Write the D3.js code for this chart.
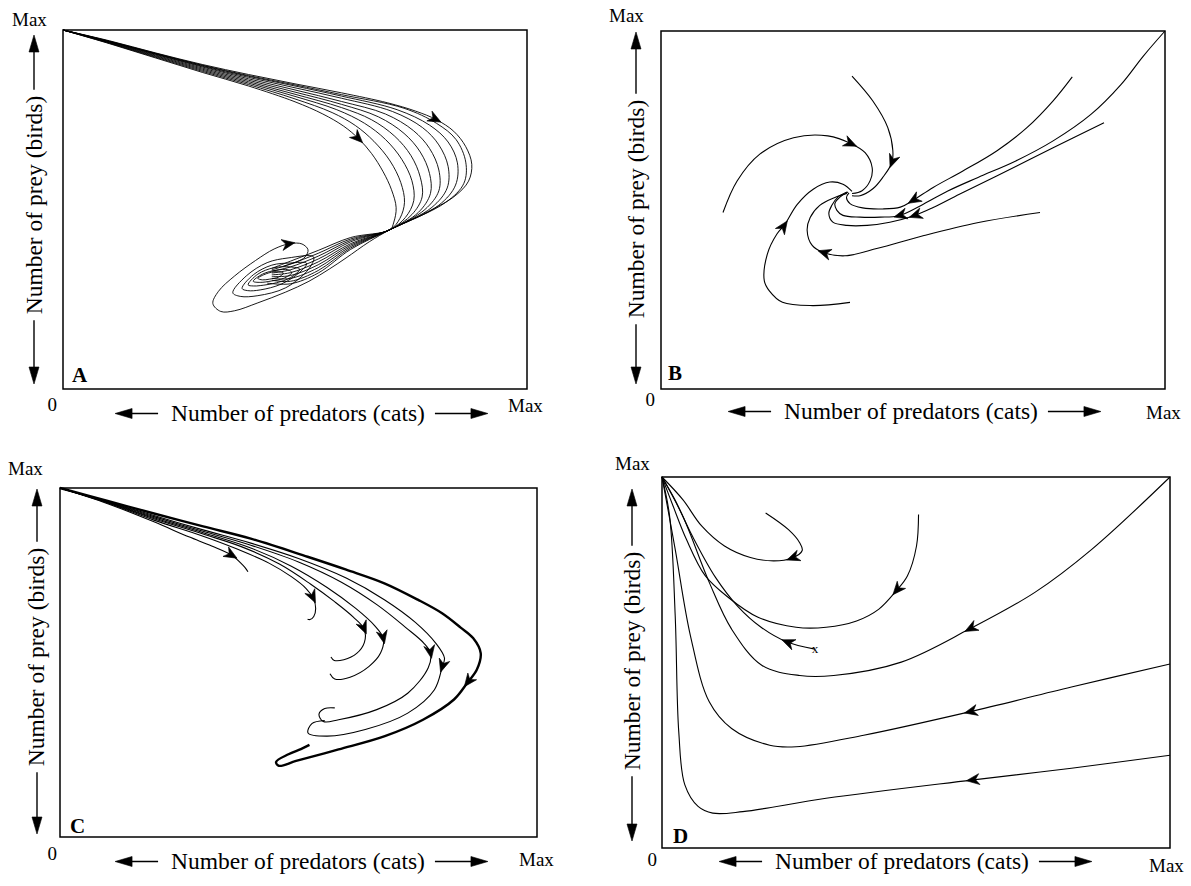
<!DOCTYPE html>
<html><head><meta charset="utf-8">
<script src="https://cdn.jsdelivr.net/npm/d3@7"></script>
<style>
body{margin:0;background:#fff}
svg{display:block}
text{font-family:"Liberation Serif","Times New Roman",serif;fill:#000}
</style>
</head><body>
<svg id="chart" width="1191" height="886"></svg>
<script>
// ---------------- DATA (x = predators %, y = prey %) ----------------
const panelLetters = ["A", "B", "C", "D"];
const maxLabel = "Max";
const zeroLabel = "0";
const xTitle = "Number of predators (cats)";
const yTitle = "Number of prey (birds)";

// Panel A: trajectories from the prey-max corner, turning, pinching, spiralling in
const trajA = [
  [[0,100],[10,96.2],[20,92.2],[30,88.2],[40,84.4],[50,80],[56,76.6],[60.5,73.2],[63.8,69.6],[66.5,65.6],[69,60.5],[70.8,55.5],[71.8,50.5],[71.3,46.5],[70.5,44.4],[62,42.2],[55,38.6],[49,35.6],[45,33.6]],
  [[0,100],[10,96.3],[20,92.4],[30,88.5],[40,84.8],[50,80.8],[58,77],[63,73.4],[67,69],[70.5,63.5],[72.8,57.5],[73.6,52],[72.6,47.5],[70.5,44.4],[62,41.8],[55,37.8],[49,34.8],[45,33.2]],
  [[0,100],[10,96.4],[20,92.6],[30,88.8],[40,85.2],[50,81.5],[59,77.8],[65,74],[69.5,69.5],[73,64],[75.2,58],[75.6,52.5],[73.8,47.8],[70.5,44.4],[62,41.4],[55,37],[49,34],[45,32.8]],
  [[0,100],[10,96.5],[20,92.8],[30,89.1],[40,85.6],[50,82.1],[60,78.4],[66.5,75],[71.5,70.4],[75,65],[77,59],[77.4,53.5],[75.2,48.6],[70.5,44.4],[62,41],[55,36.2],[49,33.2],[45,32.3]],
  [[0,100],[10,96.6],[20,93],[30,89.4],[40,86],[50,82.7],[60,79.3],[68,75.8],[73.5,71.2],[77,66],[79,60],[79.2,54.5],[76.6,49.2],[70.5,44.4],[62,40.5],[55,35.4],[49,32.4],[45,31.8]],
  [[0,100],[10,96.7],[20,93.2],[30,89.7],[40,86.4],[50,83.3],[60,80.1],[69.5,76.6],[75.5,72],[79,67],[81,61],[81,55.2],[78,50],[70.5,44.4],[62,40.1],[55,34.6],[49,31.6],[45,31.3]],
  [[0,100],[10,96.8],[20,93.3],[30,89.9],[40,86.8],[50,83.9],[60,81],[71,77.3],[77.5,72.8],[81,68],[83,62],[82.8,56],[79.5,50.6],[70.5,44.4],[62,39.7],[55,33.8],[49,30.8],[45,30.8]],
  [[0,100],[10,96.8],[20,93.4],[30,90.1],[40,87.1],[50,84.4],[60,81.6],[72,77.8],[79,73.5],[83,68.8],[85,63],[84.6,56.8],[81,51.2],[70.5,44.4],[62,39.3],[55,33],[49,30],[45,30.3]],
  [[0,100],[10,96.9],[20,93.5],[30,90.2],[40,87.3],[50,84.7],[60,82],[73.5,78.2],[80.5,74],[84.7,69.5],[86.8,63.2],[86.4,57.3],[82.5,52],[70.5,44.4],[62,38.9],[55,32.3],[49,29.3],[44,29.5]],
  [[0,100],[10,97],[20,93.6],[30,90.4],[40,87.6],[50,85],[60,82.5],[70,79.7],[76,77.4],[80.5,75],[84.2,71.8],[86.8,67.5],[88.1,62.6],[87.4,57.9],[84.5,53.8],[78.5,49.3],[70.5,44.4],[66,41],[61,36.5],[57.5,33.5],[53,30],[48,27],[42,24],[37,21.8],[34,21.6],[32.3,23.8],[33.5,27.2],[37,31.5],[41.5,35.8],[45.5,39],[48.9,40.5],[51.5,40.4],[52.8,38.8],[52.2,36.8],[50.5,35.5],[47.5,34.2]]
];
const loopsA = [
  [[36.6,26.8],[39.5,31.5],[44,35.2],[48.5,36.5],[54,36.8],[53,33.5],[48,28.2],[42,26],[38.2,25.8]],
  [[38.6,28],[41,31.8],[45,34.5],[49,35.1],[52.5,35],[51,32.5],[47,29.2],[42.5,27.6],[39.8,27.4]],
  [[39.9,29],[42,32],[45.5,33.8],[49,34],[51,33.4],[49,31],[46,29.6],[42.5,28.8],[41,28.7]],
  [[41,30],[43,32],[46,33.1],[48.5,33.2],[49.3,32.4],[47.5,30.8],[45,30.1],[42.5,29.7]],
  [[42,30.8],[43.8,32.1],[46,32.7],[47.5,32.3],[46.5,31.2],[44.5,30.6],[43,30.4]]
];
const arrowsA = [[9,9],[0,8],[9,30]];   // [trajectory, point index]

// Panel B: spiral sink
const trajB = [
  [[37.9,87.4],[42,80.5],[45,73],[46,66.6],[45.8,63.2],[44,59.1],[42.1,56],[39.5,54],[37.9,54]],
  [[12.3,49.3],[15.1,58.1],[19.6,65.6],[26.3,70.2],[33.1,70.7],[37.9,68.4],[40.5,66],[41.9,61.8],[41.5,58.2],[39.9,55.4],[37.9,54.6]],
  [[37.5,24.2],[30.1,23.3],[24.1,24.2],[21.5,27.4],[20.5,30.2],[21.1,37.7],[23,43.3],[24.5,45.8],[27,51.5],[30.2,55.8],[33.5,57.8],[36.1,57.2],[37.9,55.2]],
  [[75.2,49.3],[63,46.5],[52,42.8],[43,39.3],[36.5,37.2],[32.1,38.2],[30,40.1],[29,44.3],[29.6,47.9],[31.5,51.3],[34.5,53.5],[36.9,54.6]],
  [[81.6,87.2],[77.8,80.5],[72.6,73],[66.6,66.5],[59.9,60.9],[54,56.3],[49.9,52.6],[47.5,50.8],[44,50.3],[40,50.6],[37.5,51.8],[36.8,53.5],[37.3,54.8]],
  [[100,100],[95.7,93],[91.3,85.1],[85.3,76.7],[77.8,69.3],[70.4,63.7],[62.9,59.1],[56.9,55.3],[51.5,51.2],[47.2,48.4],[43.5,48],[39.5,48],[36.1,48.5],[34.9,49.9],[34.5,51.8],[35.5,53.6],[37.1,55]],
  [[87.9,74.4],[77.8,67.4],[66.6,59.5],[59.2,54.4],[54,50.7],[50.2,48.4],[45.4,46.6],[40.9,45.7],[36.9,45.7],[34.1,46.6],[33.3,49],[33.9,51.3],[35.1,53.6],[36.9,55]]
];
const arrowsB = [[0,4],[1,5],[2,7],[3,5],[4,6],[5,9],[6,5]];

// Panel C: trajectories peeling off a common path
const trajC = [
  [[0,100],[10,95.5],[19.7,90.3],[27,86],[31.8,83.4],[36.2,80.6],[37.8,78.6],[38.8,77.2],[39.4,76]],
  [[0,100],[10,95.7],[19.7,90.8],[30,86.2],[37,82.6],[43.9,78.4],[48.5,74.6],[51.6,71.2],[53.1,68.4],[53.6,65.5],[53.2,63.2],[52.4,62.3],[51.9,62.4]],
  [[0,100],[10,95.8],[19.7,91.2],[30,86.8],[38,83.2],[46,78.2],[52.5,72.5],[57.5,67.5],[61.5,63],[63.8,59.5],[63.8,55.7],[62.2,52.6],[59.5,50.8],[57.5,50.6],[56.8,51.6]],
  [[0,100],[10,95.9],[19.7,91.5],[30,87.2],[40,82.8],[48.5,77.6],[56,71.5],[62,65.5],[66,60.5],[67.8,56.8],[67.2,52.7],[64.8,48.9],[60.8,45.8],[57.6,45.3],[56.6,46.8]],
  [[0,100],[10,96],[19.7,91.8],[30,87.6],[40,83.6],[50,78.8],[59,73],[66.5,66.5],[72.5,60],[76.3,55.5],[77.7,52.6],[77.2,48.5],[72.9,41.2],[66.4,36.5],[58.4,33.6],[55.2,33.1],[54.3,35.2],[55.5,36.8],[57.6,37]],
  [[0,100],[10,96.1],[19.7,92.1],[30,88],[40,84.2],[50,79.8],[60,74.2],[68,68],[74.5,61.5],[78.8,55.5],[80.6,51.3],[80.1,48.6],[78.5,42.2],[72.9,35.5],[64,30.8],[56,28.9],[52,29.8],[52.8,32.5],[55.5,33.4]],
  [[0,100],[10,96.3],[19.7,92.7],[30,89],[40,85.5],[51.9,80.3],[60,76.6],[68,72.7],[75,68],[80.1,64.1],[84,60],[86.6,57],[88.2,52.7],[87.4,48],[85.4,44.2],[82.6,39.4],[76.1,33.6],[68.1,28.9],[58.4,25.1],[49.5,21.8],[45.9,20.4],[45.3,21.5],[47.9,23.7],[50.5,25.2],[52.3,26.4]]
];
const heavyC = [6];
const arrowsC = [[0,5],[1,8],[2,9],[3,9],[4,10],[5,11],[6,14]];

// Panel D: trajectories running to the prey-max corner
const trajD = [
  [[100,25],[80.6,21.5],[60.9,18.3],[32.3,13.4],[15.9,9.8],[10,9.4],[7.1,11.2],[4.5,17],[3.3,31.3],[2.6,62.6],[1.5,89.4],[0,100]],
  [[100,49.6],[80.6,43.4],[60.5,36.7],[39.7,30.4],[26.4,27.3],[21.2,27.7],[13.7,32.2],[9.3,39.4],[5.6,57.2],[2.6,80.5],[0,100]],
  [[100,100],[84.6,80.5],[73.4,68.9],[60.5,59],[47.1,50.1],[33.8,46.5],[27.1,46.5],[19.7,49.2],[13.7,59],[9.3,71.6],[4.1,89.4],[0,100]],
  [[30.1,53.6],[24.5,55.6],[19.5,59.5],[15,65],[10.5,73],[6,84],[2.5,94],[0,100]],
  [[50.5,89.9],[50.1,81.4],[48.3,73.3],[46.1,69.3],[42.7,64.4],[38.3,61.2],[32.3,59.5],[26.4,59.5],[18.9,62.2],[13,67.6],[8.5,73.4],[4.8,83.2],[2.2,92.1],[0,100]],
  [[20.4,90.3],[24.9,85.8],[27.1,82.3],[27.6,80.2],[25.5,78.1],[22,77.4],[17.4,78.3],[12.3,81.4],[7.8,86.8],[4.1,93.9],[0,100]]
];
const arrowsD = [[0,2],[1,2],[2,3],[3,1],[4,3],[5,4]];
const startMarkD = [[30.1,53.6]];

// ---------------- LAYOUT ----------------
const layout = {
  A: {box:{l:63,t:30,r:527,b:389}, maxTop:[12,26], zero:[57,411], maxRight:[508,412], xlab:{cx:298,by:421}, ylab:{bx:42,cy:205,ax:34}, yArrow:[35,384], letter:[72,382]},
  B: {box:{l:661,t:31,r:1165,b:389}, maxTop:[609,22], zero:[655,406], maxRight:[1146,419], xlab:{cx:911,by:419}, ylab:{bx:644,cy:209,ax:636}, yArrow:[32,384], letter:[668,380]},
  C: {box:{l:60,t:488,r:537,b:837}, maxTop:[8,475], zero:[57,860], maxRight:[519,866], xlab:{cx:298,by:869}, ylab:{bx:44,cy:657,ax:37}, yArrow:[489,834], letter:[70,833]},
  D: {box:{l:662,t:477,r:1170,b:848}, maxTop:[615,470], zero:[657,866], maxRight:[1149,872], xlab:{cx:902,by:869}, ylab:{bx:640,cy:661,ax:632}, yArrow:[489,841], letter:[673,843]}
};

const svg = d3.select("#chart");
svg.append("rect").attr("width",1191).attr("height",886).attr("fill","#fff");

const panelData = {
  A:{traj:trajA, loops:loopsA, arrows:arrowsA, heavy:[], marks:[]},
  B:{traj:trajB, loops:[], arrows:arrowsB, heavy:[], marks:[]},
  C:{traj:trajC, loops:[], arrows:arrowsC, heavy:heavyC, marks:[]},
  D:{traj:trajD, loops:[], arrows:arrowsD, heavy:[], marks:startMarkD}
};

function arrowHead(g, x, y, ang, len, hw, notch){
  g.append("path")
    .attr("d", `M0,0 L${-len},${-hw} L${-len+notch},0 L${-len},${hw} Z`)
    .attr("transform", `translate(${x},${y}) rotate(${ang*180/Math.PI})`)
    .attr("fill","#000").attr("stroke","#000").attr("stroke-width",0.6).attr("stroke-linejoin","miter");
}

panelLetters.forEach(key => {
  const L = layout[key], P = panelData[key], bx = L.box;
  const g = svg.append("g");
  const x = d3.scaleLinear().domain([0,100]).range([bx.l, bx.r]);
  const y = d3.scaleLinear().domain([0,100]).range([bx.b, bx.t]);

  // frame
  g.append("rect").attr("x",bx.l).attr("y",bx.t).attr("width",bx.r-bx.l).attr("height",bx.b-bx.t)
    .attr("fill","none").attr("stroke","#000").attr("stroke-width",1.5);

  const line = d3.line().x(d=>x(d[0])).y(d=>y(d[1])).curve(d3.curveCatmullRom.alpha(0.5));
  const loop = d3.line().x(d=>x(d[0])).y(d=>y(d[1])).curve(d3.curveCatmullRomClosed.alpha(0.5));

  g.selectAll("path.traj").data(P.traj).join("path").attr("class","traj")
    .attr("d", line).attr("fill","none").attr("stroke","#000")
    .attr("stroke-width", (d,i)=> P.heavy.includes(i) ? 2.4 : (key==="A" ? 0.9 : 1.1))
    .attr("stroke-linejoin","round");
  g.selectAll("path.loop").data(P.loops).join("path").attr("class","loop")
    .attr("d", loop).attr("fill","none").attr("stroke","#000").attr("stroke-width",0.9);

  P.arrows.forEach(([ci,pi]) => {
    const pts = P.traj[ci];
    const p = pts[pi], a = pts[pi-1], b = pts[pi+1];
    const ang = Math.atan2(y(b[1])-y(a[1]), x(b[0])-x(a[0]));
    const px = x(p[0]) + Math.cos(ang)*5, py = y(p[1]) + Math.sin(ang)*5;
    arrowHead(g, px, py, ang, 13, 5.5, 4);
  });

  P.marks.forEach(m => {
    g.append("text").attr("x", x(m[0])).attr("y", y(m[1])+4).attr("text-anchor","middle")
      .attr("font-size",13).text("x");
  });

  // labels
  g.append("text").attr("x",L.maxTop[0]).attr("y",L.maxTop[1]).attr("font-size",19).text(maxLabel);
  g.append("text").attr("x",L.zero[0]).attr("y",L.zero[1]).attr("font-size",19).attr("text-anchor","end").text(zeroLabel);
  g.append("text").attr("x",L.maxRight[0]).attr("y",L.maxRight[1]).attr("font-size",19).text(maxLabel);
  g.append("text").attr("x",L.letter[0]).attr("y",L.letter[1]).attr("font-size",21).attr("font-weight","bold").text(key);

  // x title with arrows
  const xt = g.append("text").attr("x",L.xlab.cx).attr("y",L.xlab.by).attr("font-size",23.5)
    .attr("text-anchor","middle").text(xTitle);
  const w = xt.node().getComputedTextLength();
  const ay = L.xlab.by - 7.5;
  const lft = L.xlab.cx - w/2, rgt = L.xlab.cx + w/2;
  g.append("line").attr("x1",lft-13).attr("x2",lft-50).attr("y1",ay).attr("y2",ay).attr("stroke","#000").attr("stroke-width",1.4);
  arrowHead(g, lft-56, ay, Math.PI, 17, 5, 0);
  g.append("line").attr("x1",rgt+10).attr("x2",rgt+57).attr("y1",ay).attr("y2",ay).attr("stroke","#000").attr("stroke-width",1.4);
  arrowHead(g, rgt+63, ay, 0, 17, 5, 0);

  // y title with arrows
  const yt = g.append("text").attr("transform",`translate(${L.ylab.bx},${L.ylab.cy}) rotate(-90)`)
    .attr("font-size",23.5).attr("text-anchor","middle").text(yTitle);
  const h = yt.node().getComputedTextLength();
  const top = L.ylab.cy - h/2, bot = L.ylab.cy + h/2;
  g.append("line").attr("x1",L.ylab.ax).attr("x2",L.ylab.ax).attr("y1",top-6).attr("y2",L.yArrow[0]+6).attr("stroke","#000").attr("stroke-width",1.4);
  arrowHead(g, L.ylab.ax, L.yArrow[0], -Math.PI/2, 17, 5, 0);
  g.append("line").attr("x1",L.ylab.ax).attr("x2",L.ylab.ax).attr("y1",bot+6).attr("y2",L.yArrow[1]-6).attr("stroke","#000").attr("stroke-width",1.4);
  arrowHead(g, L.ylab.ax, L.yArrow[1], Math.PI/2, 17, 5, 0);
});
</script>
</body></html>
